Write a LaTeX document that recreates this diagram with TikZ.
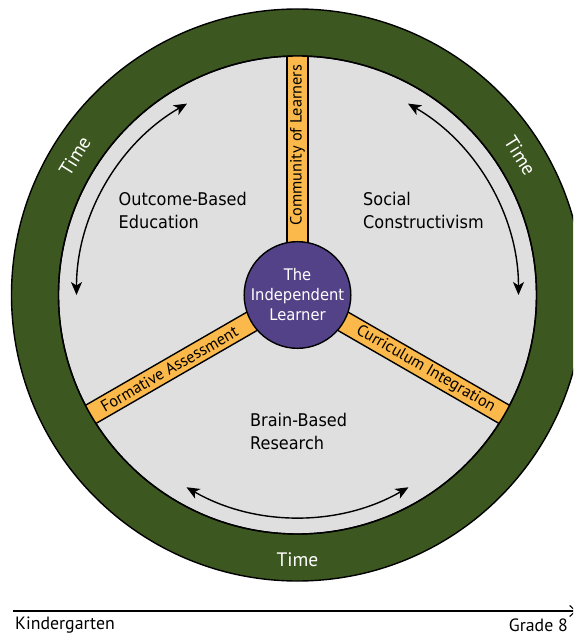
\documentclass[tikz,border=0pt]{standalone}
\usepackage{fontspec}
\setmainfont{PT Sans}
\newfontfamily\regionfont[FakeStretch=0.92]{DejaVu Sans}
\usetikzlibrary{arrows.meta}

\definecolor{ringgreen}{RGB}{60,87,31}
\definecolor{fieldgray}{RGB}{223,223,223}
\definecolor{spokeorange}{RGB}{251,184,75}
\definecolor{hubpurple}{RGB}{84,66,137}

\tikzset{
  outline/.style={draw=black, line width=1.4pt},
  ringdisc/.style={outline, fill=ringgreen},
  fielddisc/.style={outline, fill=fieldgray},
  spokebox/.style={outline, fill=spokeorange},
  hub/.style={circle, outline, fill=hubpurple, minimum size=104pt, inner sep=0pt,
    text=white, align=center, font=\regionfont\fontsize{16}{20}\selectfont},
  region/.style={align=left, inner sep=0pt, text=black,
    font=\regionfont\fontsize{17.5}{23}\selectfont},
  spokelabel/.style={inner sep=0pt, text=black, font=\fontsize{16.3}{18}\selectfont},
  timelabel/.style={inner sep=0pt, text=white, font=\fontsize{19.5}{22}\selectfont},
  cycle/.style={line width=1.4pt,
    {Stealth[length=13pt,width=11pt,inset=3.5pt]}-{Stealth[length=13pt,width=11pt,inset=3.5pt]}},
  axisline/.style={line width=1.1pt, -{Straight Barb[length=6pt,width=11pt]}},
  gradelabel/.style={inner sep=0pt, text=black, font=\fontsize{17.8}{20}\selectfont}
}

\begin{document}
\begin{tikzpicture}[x=1pt, y=1pt]
  % page frame, origin at the centre of the wheel
  \useasboundingbox (-297.5,-339) rectangle (275.5,295);
  \fill[white] (-297.5,-339) rectangle (275.5,295);
  \clip (-297.5,-339) rectangle (275.5,295);

  % outer time ring and inner field
  \draw[ringdisc] (0,0) circle[radius=286];
  \draw[fielddisc] (0,0) circle[radius=239];

  % three spokes, trimmed to the field
  \begin{scope}
    \clip (0,0) circle[radius=239];
    \foreach \ang in {90,210,330}
      \draw[spokebox, rotate=\ang] (0,-10.5) rectangle (260,10.5);
  \end{scope}
  \draw[outline] (0,0) circle[radius=239];

  % hub
  \node[hub] (hub) at (0,0) {The\\Independent\\Learner};

  % spoke labels
  \node[spokelabel, rotate=90]  (community) at (90:150)  {Community of Learners};
  \node[spokelabel, rotate=30]  (formative) at (210:148) {Formative Assessment};
  \node[spokelabel, rotate=-30] (curriculum) at (330:148) {Curriculum Integration};

  % sector labels
  \node[region, anchor=west] (obe)    at (-179,84.5) {Outcome-Based\\Education};
  \node[region, anchor=west] (social) at (65.5,85)   {Social\\Constructivism};
  \node[region, anchor=west] (brain)  at (-47.5,-136) {Brain-Based\\Research};

  % time labels on the ring
  \node[timelabel, rotate=58]  (timeL) at (148:262.5) {Time};
  \node[timelabel, rotate=-58] (timeR) at (32:262.5)  {Time};
  \node[timelabel]             (timeB) at (270:265)   {Time};

  % cyclic arrows in each sector
  \coordinate (cycL) at (120:221);
  \coordinate (cycR) at (60:221);
  \coordinate (cycB) at (240:222);
  \draw[cycle] (cycL) arc[start angle=120, end angle=180, radius=221];
  \draw[cycle] (cycR) arc[start angle=60, end angle=0, radius=221];
  \draw[cycle] (cycB) arc[start angle=240, end angle=300, radius=222];

  % grade axis
  \coordinate (axL) at (-284.5,-316);
  \coordinate (axR) at (279,-316);
  \draw[axisline] (axL) -- (axR);
  \node[gradelabel, anchor=west] (kinder) at (-282.5,-330) {Kindergarten};
  \node[gradelabel, anchor=east] (grade)  at (270.5,-330)  {Grade 8};
\end{tikzpicture}
\end{document}
